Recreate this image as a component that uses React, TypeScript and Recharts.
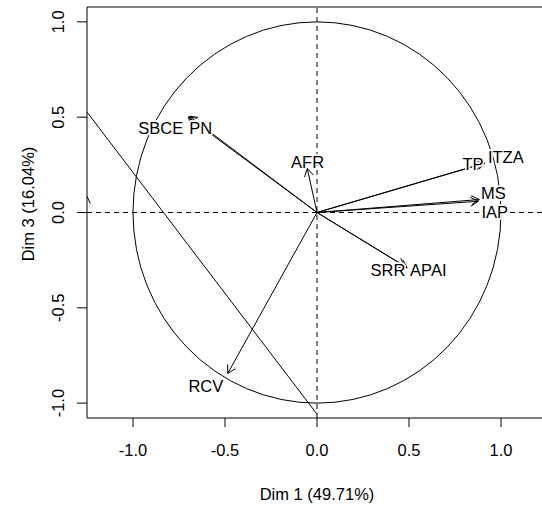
import { ScatterChart, Scatter, XAxis, YAxis, ReferenceLine, ReferenceArea, Label } from "recharts";

// variables on the correlation circle (Dim 1 vs Dim 3)
const varNames = ["SBCE", "PN", "AFR", "TP", "ITZA", "MS", "IAP", "SRR", "APAI", "RCV"];
const dim1 = [-0.7, -0.695, -0.053, 0.9, 0.913, 0.882, 0.877, 0.478, 0.49, -0.485];
const dim3 = [0.5, 0.505, 0.231, 0.255, 0.26, 0.068, 0.059, -0.282, -0.29, -0.844];

// where the labels ended up after label placement
const labelDim1 = [-0.849, -0.632, -0.051, 0.848, 1.026, 0.958, 0.966, 0.386, 0.605, -0.604];
const labelDim3 = [0.444, 0.444, 0.265, 0.253, 0.292, 0.104, 0.0, -0.303, -0.303, -0.91];

// stray segments drawn on the plot
const strayX1 = [-1.25, -1.25];
const strayY1 = [0.527, 0.085];
const strayX2 = [0, -1.232];
const strayY2 = [-1.058, 0.047];

const xTicks = [-1, -0.5, 0, 0.5, 1];
const yTicks = [-1, -0.5, 0, 0.5, 1];
const xDomain = [-1.25, 1.25];
const yDomain = [-1.078, 1.078];

const FONT = "'Liberation Sans', Arial, sans-serif";
const FS = 16.5;

const labelData = varNames.map((name, i) => ({ name, x: labelDim1[i], y: labelDim3[i] }));

function Arrow(p: any) {
  const { x1, y1, x2, y2 } = p;
  const ang = Math.atan2(y2 - y1, x2 - x1);
  const len = 9;
  const spread = Math.PI / 6;
  const ax = x2 - len * Math.cos(ang - spread);
  const ay = y2 - len * Math.sin(ang - spread);
  const bx = x2 - len * Math.cos(ang + spread);
  const by = y2 - len * Math.sin(ang + spread);
  return (
    <g>
      <line x1={x1} y1={y1} x2={x2} y2={y2} stroke="#000" strokeWidth={1} />
      <path d={`M${ax},${ay}L${x2},${y2}L${bx},${by}`} fill="none" stroke="#000" strokeWidth={1} />
    </g>
  );
}

function Circle(p: any) {
  return (
    <ellipse
      cx={p.x + p.width / 2}
      cy={p.y + p.height / 2}
      rx={p.width / 2}
      ry={p.height / 2}
      fill="none"
      stroke="#000"
      strokeWidth={1}
    />
  );
}

function XTick(p: any) {
  return (
    <text x={p.x} y={p.y} dy="0.71em" textAnchor="middle" fill="#000" fontSize={FS} fontFamily={FONT}>
      {Number(p.payload.value).toFixed(1)}
    </text>
  );
}

function YTick(p: any) {
  return (
    <text
      x={p.x}
      y={p.y}
      dy="0.36em"
      textAnchor="middle"
      transform={`rotate(-90 ${p.x} ${p.y})`}
      fill="#000"
      fontSize={FS}
      fontFamily={FONT}
    >
      {Number(p.payload.value).toFixed(1)}
    </text>
  );
}

function VarLabel(p: any) {
  return (
    <text
      x={p.cx}
      y={p.cy}
      dy="0.36em"
      textAnchor="middle"
      fill="#000"
      stroke="#fff"
      strokeWidth={3.5}
      strokeLinejoin="round"
      paintOrder="stroke"
      fontSize={FS}
      fontFamily={FONT}
    >
      {p.payload.name}
    </text>
  );
}

export default function App() {
  return (
    <div style={{ position: "absolute", left: 0, top: 0, width: 542, height: 506, overflow: "hidden", background: "#fff" }}>
      <ScatterChart width={560} height={506} margin={{ top: 7, right: 13, bottom: 0, left: 0 }} style={{ fontFamily: FONT }}>
        <XAxis
          type="number"
          dataKey="x"
          domain={xDomain}
          ticks={xTicks}
          allowDataOverflow
          axisLine={false}
          tickLine={{ stroke: "#000" }}
          tickSize={9}
          tickMargin={17}
          height={88}
          tick={<XTick />}
        >
          <Label
            content={() => (
              <text x={317} y={500} textAnchor="middle" fill="#000" fontSize={FS} fontFamily={FONT}>
                Dim 1 (49.71%)
              </text>
            )}
          />
        </XAxis>
        <YAxis
          type="number"
          dataKey="y"
          domain={yDomain}
          ticks={yTicks}
          allowDataOverflow
          axisLine={false}
          tickLine={{ stroke: "#000" }}
          tickSize={10}
          tickMargin={18.5}
          width={87}
          tick={<YTick />}
        >
          <Label
            content={() => (
              <text
                x={28}
                y={204}
                dy="0.36em"
                textAnchor="middle"
                transform="rotate(-90 28 204)"
                fill="#000"
                fontSize={FS}
                fontFamily={FONT}
              >
                Dim 3 (16.04%)
              </text>
            )}
          />
        </YAxis>
        <ReferenceArea
          x1={xDomain[0]}
          x2={xDomain[1]}
          y1={yDomain[0]}
          y2={yDomain[1]}
          fill="none"
          stroke="#000"
          strokeWidth={1}
          fillOpacity={0}
        />
        <ReferenceArea x1={-1} x2={1} y1={-1} y2={1} shape={Circle} />
        <ReferenceLine x={0} stroke="#000" strokeDasharray="5 4" />
        <ReferenceLine y={0} stroke="#000" strokeDasharray="5 4" />
        {strayX1.map((x, i) => (
          <ReferenceLine
            key={`s${i}`}
            segment={[{ x, y: strayY1[i] }, { x: strayX2[i], y: strayY2[i] }]}
            stroke="#000"
            strokeWidth={1}
            ifOverflow="hidden"
          />
        ))}
        {varNames.map((n, i) => (
          <ReferenceLine
            key={n}
            segment={[{ x: 0, y: 0 }, { x: dim1[i], y: dim3[i] }]}
            shape={Arrow}
            ifOverflow="visible"
          />
        ))}
        <Scatter data={labelData} shape={VarLabel} isAnimationActive={false} />
      </ScatterChart>
    </div>
  );
}
